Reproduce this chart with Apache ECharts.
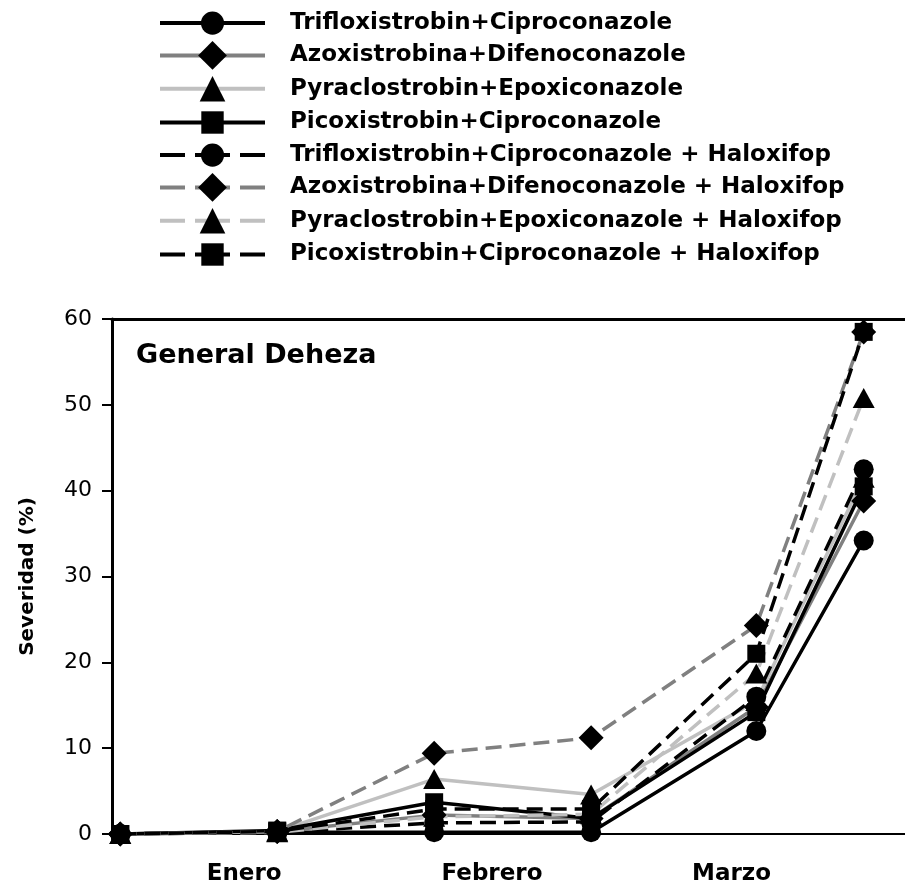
<!DOCTYPE html>
<html>
<head>
<meta charset="utf-8">
<script src="https://cdn.jsdelivr.net/npm/echarts@6/dist/echarts.min.js"></script>
<style>
html,body{margin:0;padding:0;background:#fff;}
#chart{width:905px;height:886px;}
</style>
</head>
<body>
<div id="chart"></div>
<script>
// Sampling dates, in days since 1 January
const sampleDays = [1, 20, 39, 58, 78, 91];
// Month labels and the day they are centred on
const monthLabels = ['Enero', 'Febrero', 'Marzo'];
const monthDays = [16, 46, 75];
// Severidad (%) per treatment
const triflox  = [0, 0.2, 0.2, 0.2, 12.0, 34.2];
const azox     = [0, 0.3, 2.2, 1.8, 14.8, 38.8];
const pyrac    = [0, 0.3, 6.4, 4.6, 15.5, 41.5];
const picox    = [0, 0.4, 3.7, 1.8, 14.2, 40.5];
const trifloxH = [0, 0.2, 1.3, 1.4, 16.0, 42.5];
const azoxH    = [0, 0.3, 9.4, 11.2, 24.3, 58.5];
const pyracH   = [0, 0.2, 2.0, 2.3, 18.7, 50.8];
const picoxH   = [0, 0.3, 2.9, 2.9, 21.0, 58.5];
const seriesNames = [
  'Trifloxistrobin+Ciproconazole',
  'Azoxistrobina+Difenoconazole',
  'Pyraclostrobin+Epoxiconazole',
  'Picoxistrobin+Ciproconazole',
  'Trifloxistrobin+Ciproconazole + Haloxifop',
  'Azoxistrobina+Difenoconazole + Haloxifop',
  'Pyraclostrobin+Epoxiconazole + Haloxifop',
  'Picoxistrobin+Ciproconazole + Haloxifop'
];
const seriesValues = [triflox, azox, pyrac, picox, trifloxH, azoxH, pyracH, picoxH];

const FONT = 'DejaVu Sans';
const lineColors = ['#000000', '#808080', '#c0c0c0', '#000000'];
const symbols = ['circle', 'diamond', 'triangle', 'rect'];
const symbolSizes = [20, [25, 25], [22, 20], 18];
const legendIconHeights = [29, 36, 32, 28];

const series = seriesNames.map((name, i) => {
  const k = i % 4;
  const dashed = i >= 4;
  return {
    name: name,
    type: 'line',
    data: sampleDays.map((d, j) => [d, seriesValues[i][j]]),
    symbol: symbols[k],
    symbolSize: symbolSizes[k],
    showAllSymbol: true,
    itemStyle: { color: '#000000' },
    lineStyle: { color: lineColors[k], width: 3.5, type: dashed ? [16, 8] : 'solid' },
    emphasis: { disabled: true },
    animation: false
  };
});

const legends = seriesNames.map((name, i) => {
  const h = legendIconHeights[i % 4];
  const dashed = i >= 4;
  return {
    orient: 'vertical',
    left: 158,
    top: 26 + 33 * i - h / 2,
    itemWidth: 105,
    itemHeight: h,
    padding: 0,
    data: [name],
    selectedMode: false,
    lineStyle: { width: 4, type: dashed ? [25, 10, 35, 10] : 'solid' },
    textStyle: {
      fontFamily: FONT, fontWeight: 'bold', fontSize: 23, color: '#000',
      padding: [0, 0, 0, 20]
    }
  };
});

const chart = echarts.init(document.getElementById('chart'));
chart.setOption({
  backgroundColor: '#ffffff',
  animation: false,
  title: {
    text: 'General Deheza',
    left: 136,
    top: 342,
    padding: 0,
    textStyle: { fontFamily: FONT, fontWeight: 'bold', fontSize: 27, color: '#000' }
  },
  legend: legends,
  grid: { left: 112, right: 0, top: 319, bottom: 51, containLabel: false },
  xAxis: [{
    type: 'value',
    min: 0,
    max: 96,
    splitLine: { show: false },
    axisTick: { show: false },
    axisLine: { show: true, onZero: false, lineStyle: { color: '#000', width: 2 } },
    axisLabel: {
      customValues: monthDays,
      formatter: function (v) { const idx = monthDays.indexOf(v); return idx >= 0 ? monthLabels[idx] : ''; },
      fontFamily: FONT, fontWeight: 'bold', fontSize: 23, color: '#000', margin: 29
    }
  }, {
    type: 'value',
    position: 'top',
    min: 0,
    max: 96,
    splitLine: { show: false },
    axisTick: { show: false },
    axisLabel: { show: false },
    axisLine: { show: true, onZero: false, lineStyle: { color: '#000', width: 3 } }
  }],
  yAxis: {
    type: 'value',
    min: 0,
    max: 60,
    interval: 10,
    name: 'Severidad (%)',
    nameLocation: 'middle',
    nameGap: 74,
    nameRotate: 90,
    nameTextStyle: { fontFamily: FONT, fontWeight: 'bold', fontSize: 20, color: '#000' },
    splitLine: { show: false },
    axisLine: { show: true, onZero: false, lineStyle: { color: '#000', width: 3 } },
    axisTick: { show: true, inside: false, length: 10, lineStyle: { color: '#000', width: 2 } },
    axisLabel: { fontFamily: FONT, fontSize: 22, color: '#000', margin: 20 }
  },
  series: series
});
</script>
</body>
</html>
